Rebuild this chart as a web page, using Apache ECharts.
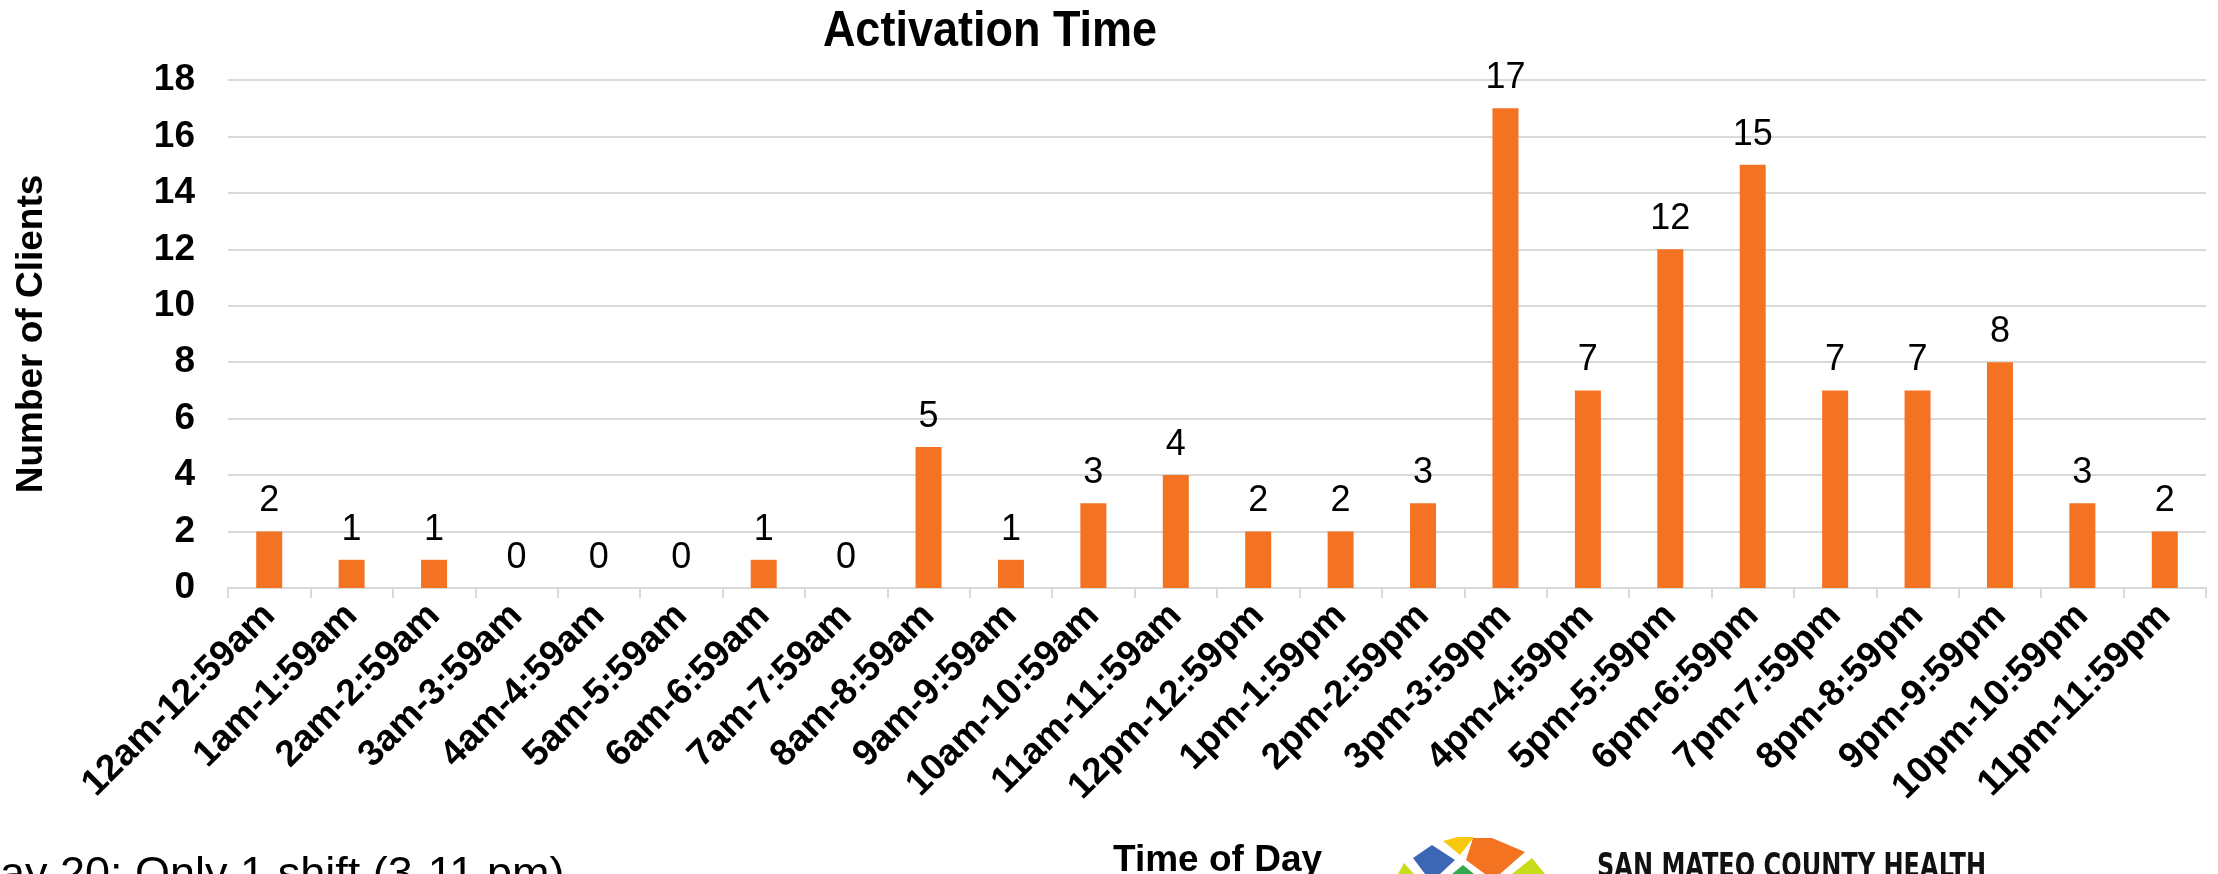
<!DOCTYPE html>
<html>
<head>
<meta charset="utf-8">
<script src="https://cdn.jsdelivr.net/npm/echarts@6/dist/echarts.min.js"></script>
<style>
html,body{margin:0;padding:0;background:#fff;}
#chart{width:2218px;height:874px;}
</style>
</head>
<body>
<div id="chart"></div>
<script>
const categories = ['12am-12:59am','1am-1:59am','2am-2:59am','3am-3:59am','4am-4:59am','5am-5:59am','6am-6:59am','7am-7:59am','8am-8:59am','9am-9:59am','10am-10:59am','11am-11:59am','12pm-12:59pm','1pm-1:59pm','2pm-2:59pm','3pm-3:59pm','4pm-4:59pm','5pm-5:59pm','6pm-6:59pm','7pm-7:59pm','8pm-8:59pm','9pm-9:59pm','10pm-10:59pm','11pm-11:59pm'];
const clients = [2,1,1,0,0,0,1,0,5,1,3,4,2,2,3,17,7,12,15,7,7,8,3,2];
const yTicks = {min: 0, max: 18, interval: 2};

const FONT = '"Liberation Sans", Arial, Helvetica, sans-serif';
const chart = echarts.init(document.getElementById('chart'), null, {renderer: 'canvas'});

const option = {
  backgroundColor: '#fff',
  animation: false,
  textStyle: {fontFamily: FONT},
  grid: {left: 228, right: 12, top: 80, bottom: 286, containLabel: false},
  xAxis: {
    type: 'category',
    data: categories,
    axisLine: {show: true, lineStyle: {color: '#d9d9d9', width: 2}},
    axisTick: {show: true, length: 10, alignWithLabel: false, lineStyle: {color: '#d9d9d9', width: 2}},
    axisLabel: {interval: 0, rotate: 45, fontSize: 37, fontWeight: 'bold', color: '#000', fontFamily: FONT, margin: 22}
  },
  yAxis: {
    type: 'value',
    min: yTicks.min, max: yTicks.max, interval: yTicks.interval,
    name: 'Number of Clients',
    nameLocation: 'middle',
    nameGap: 178,
    nameRotate: 90,
    nameTextStyle: {fontSize: 37, fontWeight: 'bold', color: '#000', fontFamily: FONT},
    axisLine: {show: false},
    axisTick: {show: false},
    splitLine: {lineStyle: {color: '#d9d9d9', width: 2}},
    axisLabel: {fontSize: 37, fontWeight: 'bold', color: '#000', margin: 33, fontFamily: FONT}
  },
  series: [{
    type: 'bar',
    data: clients,
    barWidth: 26,
    itemStyle: {color: '#F47322'},
    label: {show: true, position: 'top', distance: 12, fontSize: 36, color: '#000', fontFamily: FONT}
  }],
  graphic: [
    {type: 'text', x: 990, y: 7, scaleY: 1.12, style: {text: 'Activation Time', font: 'bold 45px ' + FONT, fill: '#000', textAlign: 'center', textVerticalAlign: 'top'}},
    {type: 'text', x: 1113, y: 842, style: {text: 'Time of Day', font: 'bold 37px ' + FONT, fill: '#000', textAlign: 'left', textVerticalAlign: 'top'}},
    {type: 'text', x: 0, y: 853, style: {text: 'ay 20: Only 1 shift (3-11 pm)', font: '45px ' + FONT, fill: '#000', textAlign: 'left', textVerticalAlign: 'top'}},
    {type: 'text', x: 1597, y: 852, scaleX: 0.81, style: {text: 'SAN MATEO COUNTY HEALTH', font: 'bold 33px "Liberation Sans Narrow", "DejaVu Sans Condensed", sans-serif', fill: '#111', textAlign: 'left', textVerticalAlign: 'top'}},
    {type: 'polygon', shape: {points: [[1443,841],[1458,837],[1474,837],[1460,855]]}, style: {fill: '#F8C80F'}},
    {type: 'polygon', shape: {points: [[1473,838],[1492,838],[1525,852],[1500,874],[1485,874],[1466,860]]}, style: {fill: '#F47321'}},
    {type: 'polygon', shape: {points: [[1413,858],[1432,845],[1455,860],[1440,874],[1425,874]]}, style: {fill: '#3D67B5'}},
    {type: 'polygon', shape: {points: [[1452,874],[1463,865],[1474,874]]}, style: {fill: '#34A84B'}},
    {type: 'polygon', shape: {points: [[1398,874],[1404,863],[1414,874]]}, style: {fill: '#C8DC1A'}},
    {type: 'polygon', shape: {points: [[1512,874],[1532,858],[1545,874]]}, style: {fill: '#C8DC1A'}}
  ]
};
chart.setOption(option);
</script>
</body>
</html>
